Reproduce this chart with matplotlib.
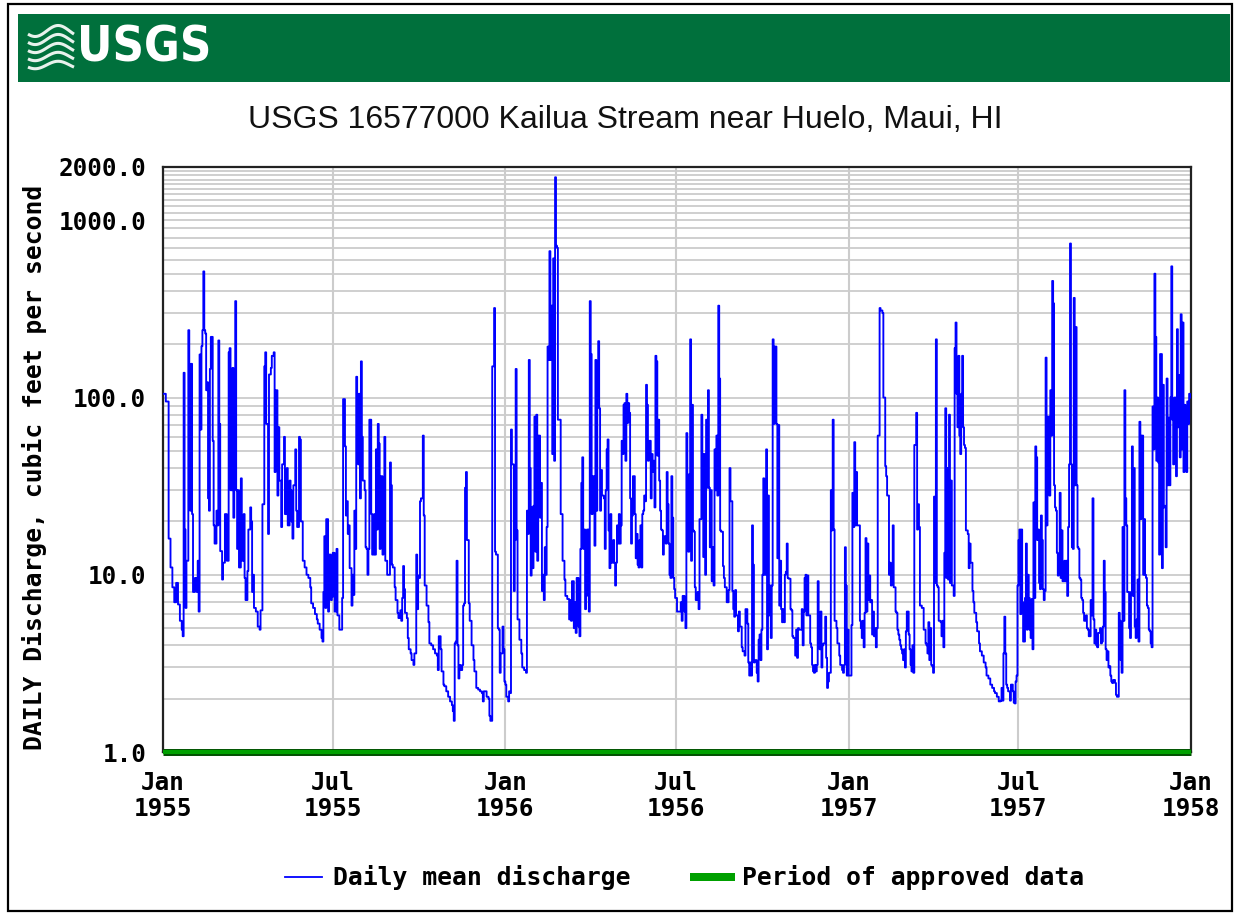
import os
import numpy as np
import matplotlib
matplotlib.use("Agg")
import matplotlib.pyplot as plt
from matplotlib import font_manager
from matplotlib.font_manager import FontProperties
from matplotlib.patches import Rectangle
from matplotlib.lines import Line2D

# ---------------------------------------------------------------------------
# Daily mean discharge, USGS 16577000 Kailua Stream near Huelo, Maui, HI
# (day offset from 1955-01-01, discharge in cubic feet per second)
# ---------------------------------------------------------------------------
START_DATE = "1955-01-01"
END_DATE = "1958-01-01"

days_1955 = [0, 3, 6, 8, 10, 12, 14, 16, 18, 20, 21, 22, 23, 24, 25, 27, 28, 29, 30, 31,
             32, 34, 36, 37, 38, 39, 40, 41, 42, 43, 44, 45, 46, 47, 48, 49, 50, 51, 53, 54,
             55, 57, 58, 59, 60, 61, 63, 64, 66, 68, 70, 71, 72, 74, 75, 76, 77, 78, 79, 80,
             81, 83, 84, 86, 87, 88, 90, 91, 93, 94, 95, 96, 97, 99, 101, 103, 104, 106, 108, 109,
             110, 112, 113, 115, 116, 118, 119, 120, 122, 123, 124, 126, 127, 129, 130, 132, 133, 135, 136, 137,
             138, 139, 141, 142, 143, 145, 146, 147, 149, 151, 153, 155, 157, 158, 160, 162, 164, 165, 167, 169,
             170, 171, 172, 173, 174, 176, 177, 179, 180, 181, 183, 185,
             186, 188, 190, 191, 192, 194, 195, 196, 197, 198, 199, 201, 202, 203, 204, 205, 206, 207, 208, 209,
             210, 211, 212, 213, 215, 216, 217, 218, 219, 220, 221, 222, 223, 225, 226, 227, 228, 229, 230, 231,
             232, 234, 235, 236, 237, 238, 239, 241, 242, 243, 244, 245, 247, 248, 250, 251, 253, 254, 255, 256,
             257, 258, 260, 261, 262, 264, 265, 267, 268, 270, 271, 272, 273, 274, 275, 277, 278, 279, 281, 283,
             284, 286, 288, 290, 292, 293, 294, 296, 297, 299, 300, 302, 304, 306, 308, 309, 310, 311, 312, 313,
             314, 315, 316, 317, 319, 320, 321, 322, 323, 324, 326, 327, 329, 331, 332, 334, 336, 338, 340, 341,
             342, 344, 345, 347, 348, 349, 350, 351, 352, 353, 354, 355, 357, 358, 359, 360, 362, 363, 364]
cfs_1955 = [105, 95, 16, 11, 8.5, 7, 9, 6.8, 5.5, 4.9, 4.5, 138, 18, 6.5, 12, 240, 155, 23, 155, 22,
            8, 9.6, 8, 12, 6.2, 175, 66, 195, 240, 515, 240, 230, 110, 122, 27, 23, 145, 220, 57, 19,
            15, 23, 19, 210, 71, 13.6, 9.4, 11.7, 22, 12, 180, 190, 30, 147, 21, 31, 350, 30, 14, 30,
            11, 35, 12, 22, 9.6, 7.2, 10.5, 18, 24, 20, 8, 10, 6.5, 6.2, 5.1, 4.9, 6.3, 25, 150, 180,
            71, 17, 135, 147, 172, 180, 38, 110, 28, 68, 34, 18.6, 42, 60, 22, 40, 19, 34, 30, 20,
            16, 32, 51, 23, 18.6, 60, 58, 20, 12, 11, 10, 9.6, 8.5, 6.9, 6.5, 6, 5.6, 5.3, 4.9, 4.4,
            4.2, 8, 16.5, 6.5, 20.6, 6.2, 13, 7.2, 7.5, 13.3, 6.2, 14,
            5.9, 4.9, 4.9, 7.4, 98, 53, 21.6, 26, 17, 19, 10.9, 6.7, 10, 7.7, 23, 14, 131, 105, 42, 105,
            27, 160, 60, 34, 30, 14.3, 14, 10, 14, 75, 75, 22, 13, 22, 13, 51, 18, 71, 55, 14,
            36, 13, 28, 60, 12, 12, 10, 10, 43, 32, 11.4, 11, 8.5, 7.2, 6.1, 5.7, 6.3, 5.5, 7.4, 11.2,
            8.3, 6.1, 5.7, 4.4, 3.8, 3.6, 3.3, 3.1, 3.6, 13, 6.4, 9.9, 9.6, 26, 27, 61, 21.6, 8.7, 6.7, 5.4,
            4.1, 4.0, 3.8, 3.6, 3.5, 2.9, 4.5, 3.8, 2.85, 2.4, 2.35, 2.2, 2.05, 1.93, 1.84, 1.7, 1.5, 4.1, 4.2, 12,
            4, 2.6, 3.1, 2.9, 3.1, 6.7, 6.9, 31, 38, 15.7, 6.9, 5.5, 4, 3.3, 2.85, 2.3, 2.25, 2.2, 2.15, 1.93,
            2.2, 2.2, 2.05, 2, 1.6, 1.5, 1.5, 150, 150, 320, 13.5, 13, 5, 4.9, 2.8, 3.6, 5.1, 3.8, 2.5]

days_1956 = [365, 366, 368, 369, 370, 371, 372, 374, 375, 376, 377, 378, 380, 382, 383, 385, 387, 388, 389, 390,
             391, 392, 393, 394, 395, 396, 397, 398, 399, 400, 402, 403, 404, 405, 406, 407, 408, 409, 410, 411,
             412, 413, 414, 415, 416, 417, 418, 419, 420, 421, 422, 424, 426, 428, 429, 431, 433, 434, 435, 436,
             438, 439, 440, 441, 443, 444, 445, 446, 447, 448, 449, 450, 451, 452, 454, 455, 456, 457, 458, 460,
             461, 462, 463, 464, 465, 466, 467, 468, 470, 471, 472, 473, 474, 475, 476, 477, 478, 480, 481, 482,
             483, 484, 485, 486, 487, 488, 489, 490, 491, 492, 493, 494, 495, 496, 497, 498, 499, 500, 501, 503,
             504, 505, 506, 507, 508, 509, 510, 511, 512, 513, 514, 515, 516, 517, 518, 520, 521, 522, 523, 524,
             525, 526, 527, 528, 529, 530, 531, 532, 533, 534, 536, 537, 538, 539, 540, 541, 542, 543, 544, 545,
             546, 548,
             551, 552, 553, 554, 556, 557, 558, 559, 560, 561, 562, 563, 564, 565, 566, 567, 568, 570, 571, 572,
             573, 574, 575, 576, 577, 578, 579, 580, 581, 582, 583, 584, 585, 586, 587, 588, 589, 590, 591, 592,
             593, 594, 595, 597, 598, 599, 601, 602, 603, 604, 605, 607, 608, 609, 610, 611, 613, 614, 615, 617,
             618, 620, 621, 623, 624, 625, 626, 627, 628, 629, 630, 631, 633, 634, 635, 636, 637, 638, 639, 640,
             641, 643, 644, 645, 646, 647, 648, 649, 650, 651, 652, 654, 655, 656, 657, 658, 659, 660, 661, 662,
             663, 664, 665, 666, 667, 669, 670, 671, 672, 673, 674, 675, 676, 677, 678, 680, 681, 682, 683, 684,
             685, 686, 687, 688, 690, 691, 692, 693, 694, 695, 696, 697, 698, 699, 700, 701, 702, 703, 704, 706,
             707, 708, 709, 710, 711, 712, 713, 714, 715, 716, 718, 719, 721, 722, 724, 725, 726, 727, 728, 729,
             730]
cfs_1956 = [2.4, 2.05, 1.93, 2.2, 2.15, 66, 42, 8.1, 15.7, 145, 17.8, 5.6, 4.3, 3.6, 3, 2.9, 2.8, 23, 17, 163,
            40, 9.9, 24, 10.9, 24.5, 78, 13.5, 80, 12, 61, 21, 33, 8.1, 10, 7.2, 14.3, 10, 18.6, 194, 163,
            670, 163, 330, 48, 610, 44, 1750, 720, 700, 75, 75, 22, 12, 9.4, 7.6, 7.3, 5.6, 7.2, 5.5, 9.2,
            5, 7, 4.7, 9.6, 5.1, 4.5, 14, 33, 46, 14, 18, 6.4, 7.6, 18, 6.2, 350, 176, 22, 36, 14.6,
            163, 23, 91, 208, 87, 23, 39, 28, 27, 14, 30, 51, 58, 17.8, 10.9, 22, 11.7, 15.7, 11.7, 8.7,
            11.7, 19, 15, 22, 15, 19, 57, 48, 91, 93, 44, 105, 72, 93, 82, 27, 15, 21.6, 36, 22,
            12.4, 17, 11.4, 11, 15.7, 19, 11, 22, 23, 28, 26, 118, 91, 44, 57, 27, 48, 38, 44, 24,
            172, 160, 47, 75, 34, 23, 18, 17.8, 13, 16.5, 15, 38, 25, 15, 10, 9.6, 36, 21, 9.6, 8.3,
            7.4, 6.2,
            6.2, 7, 5.5, 7.6, 6.2, 5, 63, 36, 13.5, 37, 213, 12, 91, 17.8, 17.5, 8.5, 7.2, 8, 6.4, 20.6,
            20.6, 80, 48, 12.6, 48, 10, 75, 31, 110, 31, 14.3, 30, 9.2, 14.3, 8.7, 51, 30, 61, 28, 330,
            128, 17.8, 17.5, 11.2, 9.6, 8.5, 7, 7, 8.2, 40, 26, 8.1, 6.4, 5.8, 8.2, 5.9, 4.8, 6.2, 5.1, 3.9,
            3.7, 3.5, 6.4, 5.3, 3.2, 2.7, 3.2, 2.7, 19, 11.4, 3.2, 3.3, 2.8, 2.5, 4.3, 4.6, 3.3, 4.9, 10, 35,
            10, 51, 3.8, 28, 5.9, 8.7, 4.4, 8.7, 213, 71, 194, 71, 12.4, 70, 6.7, 12, 6.4, 5.4, 6.4, 5.4,
            10, 10.4, 15, 9.6, 9.5, 6.4, 6.3, 4.5, 4.4, 4.4, 3.5, 4.9, 3.4, 5, 4.9, 4.9, 6.4, 4, 6.2, 9.6,
            10, 5.9, 9.9, 5.9, 4.1, 3.9, 3.1, 2.85, 2.8, 3.1, 2.85, 3.1, 9.2, 6.1, 3.8, 6.2, 3, 4, 4.1, 5.8,
            3.4, 2.3, 2.5, 2.8, 2.8, 30, 17.8, 75, 18, 5.5, 5, 4.1, 3.5, 3.1, 2.9, 2.8, 3.1, 14.3, 8.7, 2.7,
            4.9]

days_1957 = [731, 733, 734, 735, 736, 737, 738, 739, 740, 742, 743, 744, 745, 746, 747, 748, 749, 750, 751, 752,
             753, 754, 755, 756, 757, 758, 759, 760, 761, 762, 763, 764, 765, 767, 768, 769, 770, 771, 772, 773,
             774, 775, 776, 777, 778, 779, 781, 782, 783, 784, 785, 786, 787, 788, 789, 790, 791, 792, 793, 795,
             796, 797, 798, 799, 800, 801, 802, 803, 804, 805, 806, 807, 809, 810, 811, 812, 813, 814, 815, 816,
             817, 818, 819, 820, 821, 822, 823, 824, 825, 826, 827, 829, 830, 831, 832, 833, 834, 835, 836, 837,
             838, 839, 840, 841, 843, 844, 845, 846, 847, 848, 849, 850, 851, 852, 853, 854, 855, 856, 858, 859,
             860, 861, 863, 864, 865, 867, 868, 870, 871, 873, 875, 877, 878, 880, 882, 884, 886, 887, 889, 891,
             893, 894, 895, 896, 897, 898, 899, 900, 901, 902, 903, 904, 906, 907, 908, 909, 910, 911, 912, 913,
             914,
             915, 916, 917, 919, 920, 921, 922, 923, 924, 925, 926, 927, 928, 929, 930, 931, 932, 933, 934, 935,
             936, 937, 938, 939, 940, 941, 942, 943, 945, 946, 947, 948, 949, 950, 951, 952, 953, 954, 955, 956,
             957, 958, 959, 961, 962, 963, 964, 965, 966, 967, 968, 969, 970, 971, 972, 973, 974, 975, 976, 977,
             978, 979, 980, 981, 982, 984, 985, 986, 987, 988, 989, 990, 991, 992, 993, 994, 995, 996, 997, 999,
             1000, 1001, 1002, 1003, 1004, 1005, 1006, 1007, 1008, 1009, 1010, 1011, 1012, 1013, 1015, 1016, 1017, 1018, 1019, 1020,
             1021, 1022, 1023, 1024, 1025, 1026, 1027, 1028, 1030, 1031, 1032, 1033, 1034, 1035, 1036, 1037, 1038, 1039, 1040, 1041,
             1042, 1043, 1045, 1046, 1047, 1048, 1049, 1050, 1051, 1052, 1053, 1054, 1055, 1056, 1057, 1058, 1059, 1060, 1061, 1062,
             1063, 1065, 1066, 1067, 1068, 1069, 1070, 1071, 1072, 1073, 1074, 1075, 1076, 1077, 1078, 1080, 1081, 1082, 1083, 1084,
             1085, 1086, 1087, 1088, 1089, 1090, 1091, 1092, 1093, 1094, 1095]
cfs_1957 = [2.7, 2.7, 5.2, 29, 18.6, 56, 19, 38, 19, 19, 5.5, 5, 4.4, 5.5, 3.9, 6.1, 16.1, 6.2, 15, 7.2,
            9.9, 7, 7.2, 4.6, 6.2, 4.5, 5, 3.9, 5, 61, 61, 320, 310, 300, 100, 100, 41, 36, 28, 28,
            10, 11.7, 8.7, 10, 19, 8.5, 6.2, 6.1, 4.9, 4.6, 4.3, 4, 3.8, 3.6, 3.3, 3.8, 3, 4.8, 6.2, 4.6,
            3.8, 3.1, 2.85, 4, 2.8, 54, 54, 82, 18, 25, 18.6, 6.7, 6.5, 6.5, 4.9, 4.9, 4.1, 4, 3.6, 5.4,
            3.3, 5, 3.1, 3.05, 2.8, 27.6, 9, 213, 8.7, 8.5, 5.5, 5.4, 4.5, 5.5, 3.9, 13.3, 87, 9.6, 40, 9.4,
            80, 9, 34, 8.7, 7.6, 190, 265, 105, 68, 172, 61, 48, 105, 172, 68, 54, 52, 17.8, 17, 10.9,
            15, 11.7, 8.1, 7, 6.1, 5.4, 4.8, 4.1, 3.7, 3.5, 3.2, 3, 2.7, 2.6, 2.4, 2.3, 2.2, 2.15, 2.05, 1.93,
            1.95, 2.3, 1.95, 3.6, 5.8, 3.6, 2.4, 2.3, 2.2, 2.2, 1.95, 2.4, 2.2, 1.9, 1.88, 2.5, 2.7, 8.7, 15.7, 18,
            6,
            18, 7, 4.2, 7.4, 15, 4.9, 10, 7.4, 4.9, 4.4, 7.3, 3.8, 25.6, 7.4, 53, 46, 15.7, 18, 9, 8.3,
            21.6, 15.7, 8.3, 7.2, 8.1, 168, 19, 78, 28, 110, 61, 455, 340, 32, 24, 23, 13.3, 9.9, 13, 29,
            9.6, 17.8, 9.2, 12, 9.2, 12, 7.6, 18.6, 42, 740, 42, 14.3, 14, 365, 32, 250, 32, 14.3, 14, 9.6,
            9.4, 7.4, 7.2, 6.1, 5.5, 5.9, 5, 4.9, 4.5, 4.5, 7.2, 5.9, 27, 5.6, 4.1, 4.9, 4, 3.9, 4.7, 5,
            4.1, 4.2, 5.1, 12, 8, 3.8, 3.3, 3.7, 3, 3.05, 2.7, 2.5, 2.45, 2.55, 2.45, 2.1, 2.05, 2.05, 6.1, 5.5,
            3.3, 2.8, 18.6, 5.5, 110, 27, 19, 8, 5, 4.4, 8, 53, 7.6, 40, 5.1, 4.4, 5.6, 9.4, 4.2, 73,
            20.6, 61, 10, 20.6, 10, 9.6, 6.7, 6.5, 4.9, 4.8, 4.1, 3.9, 89, 51, 500, 220, 44, 100, 43, 13,
            176, 10.9, 118, 24, 24.5, 14.3, 128, 32, 77, 32, 100, 550, 75, 42, 100, 36, 243, 68, 134, 46,
            295, 51, 265, 38, 91, 57, 38, 95, 71, 105, 100]

y_ticks = [1, 10, 100, 1000, 2000]
y_tick_labels = ["1.0", "10.0", "100.0", "1000.0", "2000.0"]
x_tick_dates = ["1955-01-01", "1955-07-01", "1956-01-01", "1956-07-01",
                "1957-01-01", "1957-07-01", "1958-01-01"]
x_tick_labels = ["Jan\n1955", "Jul\n1955", "Jan\n1956", "Jul\n1956",
                 "Jan\n1957", "Jul\n1957", "Jan\n1958"]

TITLE = "USGS 16577000 Kailua Stream near Huelo, Maui, HI"
Y_LABEL = "DAILY Discharge, cubic feet per second"
LEGEND_FLOW = "Daily mean discharge"
LEGEND_APPROVED = "Period of approved data"

# ---------------------------------------------------------------------------
W, H = 1234, 914
USGS_GREEN = "#00703c"
FLOW_BLUE = "#0000ff"
APPROVED_GREEN = "#00a000"
GRID_GREY = "#cccccc"
MONO = "DejaVu Sans Mono"


def condensed_bold_font():
    """A narrow bold face for the banner word mark, if one is installed."""
    for f in font_manager.fontManager.ttflist:
        n = os.path.basename(f.fname).lower()
        if ("condensed" in n or "narrow" in n) and "bold" in n \
                and "oblique" not in n and "italic" not in n and "mono" not in n \
                and "serif" not in n:
            return FontProperties(fname=f.fname)
    return FontProperties(family="Liberation Sans", weight="bold")


def fx(px):
    return px / W


def fy(py):
    return 1 - py / H


days = np.array(days_1955 + days_1956 + days_1957)
cfs = np.array(cfs_1955 + cfs_1956 + cfs_1957, dtype=float)
dates = np.datetime64(START_DATE) + days.astype("timedelta64[D]")

fig = plt.figure(figsize=(W / 100, H / 100), dpi=100, facecolor="white")

# page frame and banner
fig.patches.append(Rectangle((fx(8), fy(911)), fx(1232) - fx(8), fy(4) - fy(911),
                             transform=fig.transFigure, fill=False, edgecolor="black",
                             linewidth=1.6, zorder=0))
fig.patches.append(Rectangle((fx(18), fy(82)), fx(1230) - fx(18), fy(14) - fy(82),
                             transform=fig.transFigure, facecolor=USGS_GREEN,
                             edgecolor="none", zorder=1))

# wave emblem of the logo
xs = np.linspace(28, 74, 60)
for i in range(5):
    base = 31 + i * 8.5
    ys = base + 5.5 * np.sin((xs - 28) / 46 * 2 * np.pi + 0.6) * (1 - i * 0.08)
    fig.add_artist(Line2D(fx(xs), fy(ys), transform=fig.transFigure, color="#e8f2ec",
                          linewidth=2.2, solid_capstyle="butt", zorder=2))
logo_fp = condensed_bold_font()
logo_fp.set_size(35)
fig.text(fx(77), fy(48), "USGS", transform=fig.transFigure, color="white",
         fontproperties=logo_fp, ha="left", va="center", zorder=3)

fig.text(fx(625), fy(120), TITLE, fontsize=23, family="Liberation Sans", ha="center",
         va="center", color="#111111")

# plotting area
ax = fig.add_axes([fx(163), fy(752), fx(1191) - fx(163), fy(167) - fy(752)])
ax.set_yscale("log")
ax.set_ylim(1, 2000)
ax.set_xlim(np.datetime64(START_DATE), np.datetime64(END_DATE))

minor = ([m for m in range(2, 10)] + [m * 10 for m in range(2, 10)] +
         [m * 100 for m in range(2, 10)] + [1000 + m * 100 for m in range(1, 10)])
ax.set_yticks(y_ticks)
ax.set_yticklabels(y_tick_labels)
ax.set_yticks(minor, minor=True)
ax.yaxis.set_minor_formatter(matplotlib.ticker.NullFormatter())
ax.set_xticks(np.array(x_tick_dates, dtype="datetime64[D]"))
ax.set_xticklabels(x_tick_labels)

ax.grid(True, which="both", axis="y", color=GRID_GREY, linewidth=1.3)
ax.grid(True, which="major", axis="x", color=GRID_GREY, linewidth=1.5)
ax.set_axisbelow(True)
ax.tick_params(which="both", length=0)
ax.tick_params(axis="y", pad=12, labelsize=17.5)
ax.tick_params(axis="x", pad=14, labelsize=17.5)
for lab in ax.get_yticklabels() + ax.get_xticklabels():
    lab.set_family(MONO)
    lab.set_fontweight("bold")
for lab in ax.get_xticklabels():
    lab.set_linespacing(1.1)

for sp in ax.spines.values():
    sp.set_color("#222222")
    sp.set_linewidth(1.6)

ax.plot(dates, cfs, color=FLOW_BLUE, linewidth=1.35, drawstyle="steps-post", zorder=3)

# period of approved data along the bottom of the axis
span = np.array([START_DATE, END_DATE], dtype="datetime64[D]")
ax.plot(span, [1, 1], color="#004d00", linewidth=5.0, solid_capstyle="butt",
        clip_on=False, zorder=4)
ax.plot(span, [1, 1], color=APPROVED_GREEN, linewidth=3.0, solid_capstyle="butt",
        clip_on=False, zorder=5)

fig.text(fx(35), fy(467), Y_LABEL, rotation=90, ha="center", va="center",
         fontsize=17.7, family=MONO, fontweight="bold")

# legend
fig.add_artist(Line2D([fx(285), fx(322)], [fy(877), fy(877)], transform=fig.transFigure,
                      color=FLOW_BLUE, linewidth=1.3))
fig.text(fx(333), fy(877), LEGEND_FLOW, ha="left", va="center", fontsize=17.8,
         family=MONO, fontweight="bold")
fig.patches.append(Rectangle((fx(690), fy(881)), fx(735) - fx(690), fy(873) - fy(881),
                             transform=fig.transFigure, facecolor=APPROVED_GREEN,
                             edgecolor="none"))
fig.text(fx(742), fy(877), LEGEND_APPROVED, ha="left", va="center", fontsize=17.7,
         family=MONO, fontweight="bold")

fig.savefig("out.png", dpi=100, facecolor="white")
